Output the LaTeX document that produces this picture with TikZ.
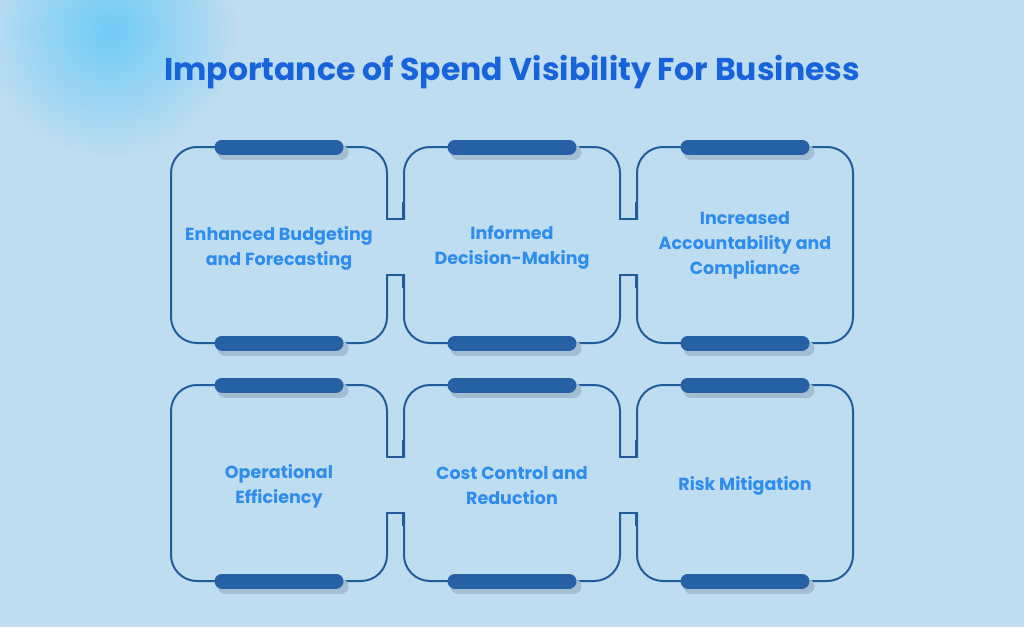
\documentclass[tikz,border=0pt]{standalone}
\usepackage{fontspec}
\setmainfont{Poppins}
\begin{document}
\begin{tikzpicture}[x=1pt,y=-1pt,
  boxline/.style={draw=edge,line width=2pt,rounded corners=26pt},
  bar/.style={line width=15pt,line cap=round,draw=barc},
  barshadow/.style={line width=15pt,line cap=round,draw=shadowc},
  lbl/.style={font=\bfseries\fontsize{17.5}{25}\selectfont,text=txt,align=center}]
\definecolor{bg}{HTML}{BFDDF0}
\definecolor{glow}{HTML}{6FCBF6}
\definecolor{edge}{HTML}{215C9C}
\definecolor{barc}{HTML}{2761A5}
\definecolor{shadowc}{HTML}{A3BDD3}
\definecolor{txt}{HTML}{2E8CEC}
\definecolor{ttl}{HTML}{1763DB}
\fill[bg] (0,0) rectangle (1024,627);
\useasboundingbox (0,0) rectangle (1024,627);
\shade[inner color=glow,outer color=bg] (110,30) circle (130);
\node[font=\bfseries\fontsize{31.5}{36}\selectfont,text=ttl] (title) at (512,72) {Importance of Spend Visibility For Business};
\foreach \y/\r in {147/1,385/2}{
  \foreach \x/\c in {171/1,404/2,637/3}{
    \draw[boxline] (\x,\y) rectangle ++(216,196);
  }
  \foreach \x in {386,619}{
    \fill[bg] (\x-3,\y+73) rectangle (\x+21,\y+127);
    \draw[edge,line width=2pt] (\x+1,\y+55) -- (\x+1,\y+72) -- (\x+17,\y+72) -- (\x+17,\y+55);
    \draw[edge,line width=2pt] (\x+1,\y+141) -- (\x+1,\y+128) -- (\x+17,\y+128) -- (\x+17,\y+141);
  }
  \foreach \x in {279,512,745}{
    \foreach \yy in {\y,\y+196}{
      \draw[barshadow] (\x-54,\yy+5) -- (\x+62,\yy+5);
      \draw[bar] (\x-57,\yy) -- (\x+57,\yy);
    }
  }
}
\node[lbl] (a) at (279,248) {Enhanced Budgeting\\and Forecasting};
\node[lbl] (b) at (512,248) {Informed\\Decision-Making};
\node[lbl] (c) at (745,245) {Increased\\Accountability and\\Compliance};
\node[lbl] (d) at (279,486) {Operational\\Efficiency};
\node[lbl] (e) at (512,486) {Cost Control and\\Reduction};
\node[lbl] (f) at (745,486) {Risk Mitigation};
\end{tikzpicture}
\end{document}
